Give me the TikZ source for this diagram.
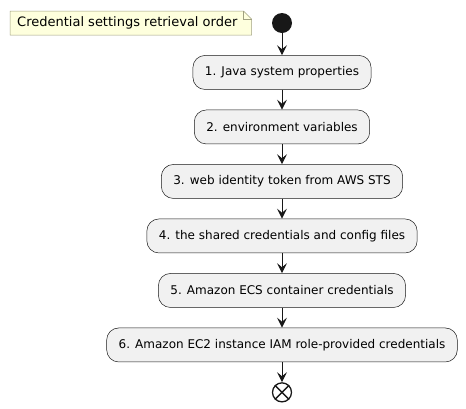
\documentclass[tikz,border=0pt]{standalone}
\usepackage{fontspec}
\setmainfont{DejaVu Sans}
\usetikzlibrary{positioning,arrows.meta,backgrounds}
\definecolor{MyLine}{HTML}{181818}
\definecolor{MyFill}{HTML}{F1F1F1}
\definecolor{MyNote}{HTML}{FEFFDD}
\definecolor{MyNoteLine}{HTML}{A0A080}
\tikzset{
	activity/.style={draw=MyLine, fill=MyFill, rounded corners=12pt, minimum height=34pt, inner xsep=12pt, font=\fontsize{12}{14}\selectfont, line width=0.5pt},
	flow/.style={draw=MyLine, line width=1pt, -{Stealth[length=10pt,width=10pt,inset=4pt]}}
}

\begin{document}
\begin{tikzpicture}[x=1pt,y=-1pt]
		\useasboundingbox (0,0) rectangle (466,408);
		
		% note
		\node[anchor=west, inner sep=0pt, font=\fontsize{13}{15}\selectfont] (note) at (17,23) {Credential settings retrieval order};
		\coordinate (nw) at (10,11);
		\coordinate (sw) at (10,35);
		\coordinate (ne) at ([xshift=14pt]note.east |- nw);
		\coordinate (se) at ([xshift=14pt]note.east |- sw);
		\begin{scope}[on background layer]
			\draw[MyNoteLine, fill=MyNote, line width=0.5pt] (nw) -- ([xshift=-8pt]ne) -- ([yshift=-8pt]ne) -- (se) -- (sw) -- cycle;
			\draw[MyNoteLine, line width=0.5pt] ([xshift=-8pt]ne) -- ([xshift=-8pt,yshift=-8pt]ne) -- ([yshift=-8pt]ne);
		\end{scope}
		
		% activities
		\node[circle, fill=MyLine, minimum size=20pt, inner sep=0pt] (start) at (282,23) {};
		\node[activity, below=22pt of start] (a1) {1. Java system properties};
		\node[activity, below=20pt of a1] (a2) {2. environment variables};
		\node[activity, below=20pt of a2] (a3) {3. web identity token from AWS STS};
		\node[activity, below=20pt of a3] (a4) {4. the shared credentials and config files};
		\node[activity, below=20pt of a4] (a5) {5. Amazon ECS container credentials};
		\node[activity, below=20pt of a5] (a6) {6. Amazon EC2 instance IAM role-provided credentials};
		\node[circle, draw=MyLine, line width=1.3pt, minimum size=19pt, inner sep=0pt, below=20pt of a6] (stop) {};
		\draw[MyLine, line width=1.3pt] (stop.45) -- (stop.225) (stop.135) -- (stop.315);
		
		\draw[flow] (start) -- (a1);
		\draw[flow] (a1) -- (a2);
		\draw[flow] (a2) -- (a3);
		\draw[flow] (a3) -- (a4);
		\draw[flow] (a4) -- (a5);
		\draw[flow] (a5) -- (a6);
		\draw[flow] (a6) -- (stop);
		
	\end{tikzpicture}
\end{document}
